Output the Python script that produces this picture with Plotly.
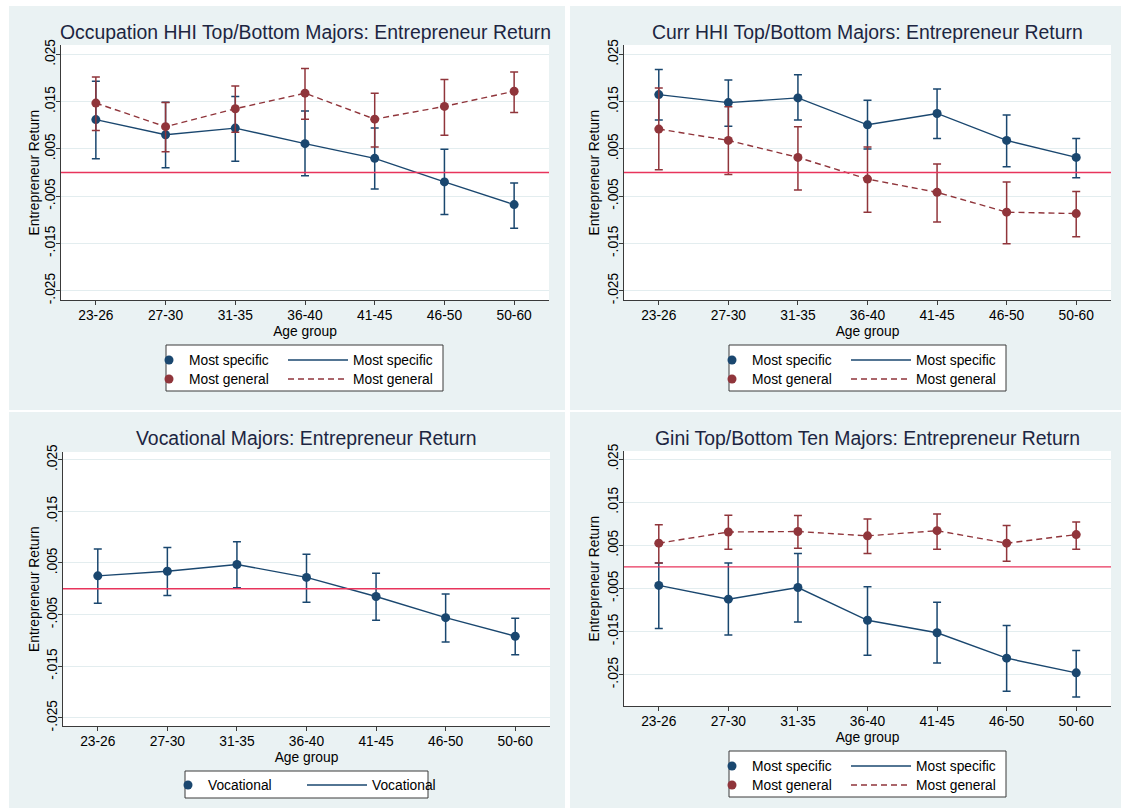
import plotly.graph_objects as go

# ---------------- data ----------------
cats = ["23-26", "27-30", "31-35", "36-40", "41-45", "46-50", "50-60"]
ytick_vals = [-0.025, -0.015, -0.005, 0.005, 0.015, 0.025]
ytick_text = ["-.025", "-.015", "-.005", ".005", ".015", ".025"]

occ_spec = [0.0112, 0.0080, 0.0094, 0.0061, 0.0030, -0.0020, -0.0068]
occ_spec_lo = [0.0029, 0.0010, 0.0024, -0.0007, -0.0035, -0.0089, -0.0118]
occ_spec_hi = [0.0193, 0.0149, 0.0161, 0.0130, 0.0094, 0.0049, -0.0022]
occ_gen = [0.0147, 0.0097, 0.0135, 0.0168, 0.0113, 0.0140, 0.0172]
occ_gen_lo = [0.0089, 0.0044, 0.0085, 0.0113, 0.0054, 0.0079, 0.0127]
occ_gen_hi = [0.0202, 0.0148, 0.0183, 0.0220, 0.0168, 0.0197, 0.0213]

curr_spec = [0.0165, 0.0148, 0.0158, 0.0101, 0.0125, 0.0068, 0.0032]
curr_spec_lo = [0.0111, 0.0098, 0.0111, 0.0050, 0.0072, 0.0012, -0.0011]
curr_spec_hi = [0.0218, 0.0196, 0.0207, 0.0153, 0.0177, 0.0122, 0.0072]
curr_gen = [0.0092, 0.0068, 0.0032, -0.0014, -0.0042, -0.0084, -0.0087]
curr_gen_lo = [0.0006, -0.0004, -0.0037, -0.0084, -0.0105, -0.0151, -0.0136]
curr_gen_hi = [0.0179, 0.0139, 0.0097, 0.0054, 0.0018, -0.0020, -0.0040]

voc = [0.0025, 0.0034, 0.0047, 0.0022, -0.0015, -0.0056, -0.0092]
voc_lo = [-0.0028, -0.0013, 0.0002, -0.0026, -0.0061, -0.0103, -0.0128]
voc_hi = [0.0077, 0.0080, 0.0091, 0.0067, 0.0030, -0.0010, -0.0057]

gini_spec = [-0.0043, -0.0075, -0.0048, -0.0124, -0.0153, -0.0212, -0.0246]
gini_spec_lo = [-0.0143, -0.0158, -0.0128, -0.0205, -0.0223, -0.0289, -0.0302]
gini_spec_hi = [0.0009, 0.0009, 0.0031, -0.0046, -0.0082, -0.0136, -0.0194]
gini_gen = [0.0055, 0.0081, 0.0082, 0.0072, 0.0084, 0.0055, 0.0075]
gini_gen_lo = [0.0009, 0.0041, 0.0043, 0.0031, 0.0041, 0.0013, 0.0041]
gini_gen_hi = [0.0098, 0.0120, 0.0119, 0.0111, 0.0123, 0.0096, 0.0104]

titles = [
    "Occupation HHI Top/Bottom Majors: Entrepreneur Return",
    "Curr HHI Top/Bottom Majors: Entrepreneur Return",
    "Vocational Majors: Entrepreneur Return",
    "Gini Top/Bottom Ten Majors: Entrepreneur Return",
]
y_title = "Entrepreneur Return"
x_title = "Age group"

# ---------------- style ----------------
W, H = 1121, 809
NAVY = "#1a476f"
MAROON = "#90353b"
PANEL_BG = "#eaf2f3"
GRID = "#e3edef"
AXIS = "#3a3a3a"
REDLINE = "#e8345c"
TITLE_C = "#1c2541"
FONT = "Liberation Sans, Arial, Helvetica, sans-serif"
FS = 13.8


def px_x(a):
    return a / W


def px_y(a):
    return 1 - a / H


# panel geometry in pixels; rows = legend row centres
panels = [
    dict(box=(9, 6, 565, 410), plot=(61, 45, 549, 300), yr=[-0.027, 0.027],
         title_y=32, ytx=34, leg=(166, 345, 443, 391), rows=(360, 379)),
    dict(box=(570, 6, 1121, 410), plot=(624, 45, 1111, 300), yr=[-0.027, 0.027],
         title_y=32, ytx=594, leg=(729, 345, 1006, 391), rows=(360, 379)),
    dict(box=(9, 412, 565, 808), plot=(63, 452, 550, 726), yr=[-0.0266, 0.0265],
         title_y=438, ytx=34, leg=(185, 771, 428, 798), rows=(785,)),
    dict(box=(570, 412, 1121, 808), plot=(624, 451, 1111, 706), yr=[-0.0323, 0.0269],
         title_y=438, ytx=594, leg=(729, 751, 1006, 797), rows=(766, 785)),
]

series = [
    [("Most specific", occ_spec, occ_spec_lo, occ_spec_hi, NAVY, "solid"),
     ("Most general", occ_gen, occ_gen_lo, occ_gen_hi, MAROON, "dash")],
    [("Most specific", curr_spec, curr_spec_lo, curr_spec_hi, NAVY, "solid"),
     ("Most general", curr_gen, curr_gen_lo, curr_gen_hi, MAROON, "dash")],
    [("Vocational", voc, voc_lo, voc_hi, NAVY, "solid")],
    [("Most specific", gini_spec, gini_spec_lo, gini_spec_hi, NAVY, "solid"),
     ("Most general", gini_gen, gini_gen_lo, gini_gen_hi, MAROON, "dash")],
]

fig = go.Figure()
shapes = []
annotations = []
layout = dict()
leg_count = [0]


def new_legend(x_px, y_px, itemwidth):
    leg_count[0] += 1
    key = "legend" if leg_count[0] == 1 else "legend" + str(leg_count[0])
    layout[key] = dict(x=px_x(x_px), y=px_y(y_px), xanchor="left", yanchor="middle",
                       bgcolor="rgba(0,0,0,0)", borderwidth=0, visible=True,
                       font=dict(size=FS, color="black", family=FONT),
                       itemwidth=itemwidth, orientation="v")
    return key


for i, (p, ser) in enumerate(zip(panels, series)):
    n = i + 1
    xs = "" if n == 1 else str(n)
    xa, ya = "x" + xs, "y" + xs
    bx0, by0, bx1, by1 = p["box"]
    l, t, r, b = p["plot"]

    shapes.append(dict(type="rect", xref="paper", yref="paper", layer="below",
                       x0=px_x(bx0), x1=px_x(bx1), y0=px_y(by1), y1=px_y(by0),
                       fillcolor=PANEL_BG, line=dict(width=0)))
    shapes.append(dict(type="rect", xref=xa + " domain", yref=ya + " domain", layer="below",
                       x0=0, x1=1, y0=0, y1=1, fillcolor="white", line=dict(width=0)))
    shapes.append(dict(type="line", xref=xa + " domain", yref=ya, layer="above",
                       x0=0, x1=1, y0=0, y1=0, line=dict(color=REDLINE, width=1.4)))
    lx0, ly0, lx1, ly1 = p["leg"]
    shapes.append(dict(type="rect", xref="paper", yref="paper", layer="below",
                       x0=px_x(lx0), x1=px_x(lx1), y0=px_y(ly1), y1=px_y(ly0),
                       fillcolor="white", line=dict(color=AXIS, width=1)))

    for k, (name, vals, lo, hi, col, dash) in enumerate(ser):
        row_y = p["rows"][k]
        leg_m = new_legend(lx0 - 17, row_y, 30)
        leg_l = new_legend(lx0 + 117, row_y, 60)
        plus = [h - v for h, v in zip(hi, vals)]
        minus = [v - lo_ for v, lo_ in zip(vals, lo)]
        fig.add_trace(go.Scatter(
            x=cats, y=vals, mode="lines", name=name, xaxis=xa, yaxis=ya,
            line=dict(color=col, width=1.4, dash="6px,4px" if dash == "dash" else "solid"),
            legend=leg_l, showlegend=True, hoverinfo="skip"))
        fig.add_trace(go.Scatter(
            x=cats, y=vals, mode="markers", name=name, xaxis=xa, yaxis=ya,
            marker=dict(color=col, size=9),
            error_y=dict(type="data", symmetric=False, array=plus, arrayminus=minus,
                         color=col, thickness=1.5, width=4),
            legend=leg_m, showlegend=True))

    layout["xaxis" + xs] = dict(
        domain=[px_x(l), px_x(r)], anchor=ya, type="category", range=[-0.5, 6.5],
        automargin=False, ticklabelstandoff=-2,
        showgrid=False, showline=True, linecolor=AXIS, linewidth=1,
        ticks="outside", ticklen=4, tickcolor=AXIS, tickwidth=1,
        tickfont=dict(size=FS, color="black", family=FONT),
        title=dict(text=x_title, font=dict(size=FS, color="black", family=FONT), standoff=4),
        zeroline=False, fixedrange=True)
    layout["yaxis" + xs] = dict(
        domain=[px_y(b), px_y(t)], anchor=xa, range=p["yr"], automargin=False,
        tickvals=ytick_vals, ticktext=ytick_text, tickangle=-90, ticklabelstandoff=-5,
        showgrid=True, gridcolor=GRID, gridwidth=1,
        showline=True, linecolor=AXIS, linewidth=1,
        ticks="outside", ticklen=4, tickcolor=AXIS, tickwidth=1,
        tickfont=dict(size=FS, color="black", family=FONT),
        zeroline=False, fixedrange=True)

    annotations.append(dict(text=titles[i], xref="paper", yref="paper",
                            x=px_x((l + r) / 2), y=px_y(p["title_y"]),
                            xanchor="center", yanchor="middle", showarrow=False,
                            font=dict(size=19.4, color=TITLE_C, family=FONT)))
    annotations.append(dict(text=y_title, xref="paper", yref="paper", textangle=-90,
                            x=px_x(p["ytx"]), y=px_y((t + b) / 2),
                            xanchor="center", yanchor="middle", showarrow=False,
                            font=dict(size=FS, color="black", family=FONT)))

fig.update_layout(
    width=W, height=H, margin=dict(l=0, r=0, t=0, b=0, autoexpand=False),
    paper_bgcolor="white", plot_bgcolor="rgba(0,0,0,0)",
    font=dict(family=FONT, size=FS, color="black"), showlegend=True,
    shapes=shapes, annotations=annotations, hovermode="closest",
    **layout)

page_fix = (
    "document.body.style.margin='0px';"
    "document.body.style.overflow='hidden';"
)

fig.write_html("out.html", config={"displayModeBar": False}, post_script=page_fix)
